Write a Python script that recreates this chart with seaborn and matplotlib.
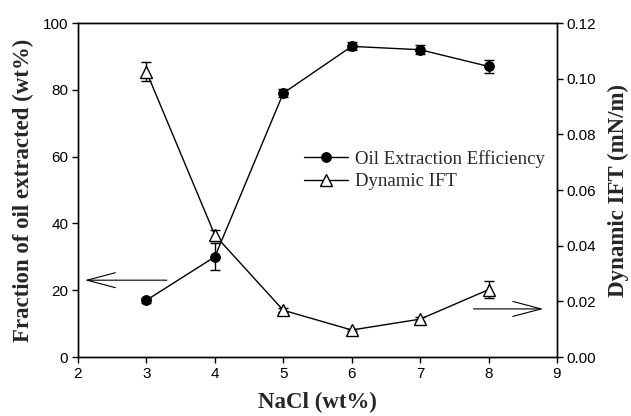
import numpy as np
import pandas as pd
import matplotlib
matplotlib.use("Agg")
import matplotlib.pyplot as plt
import seaborn as sns

nacl = [3, 4, 5, 6, 7, 8]
oil_extracted = [17.0, 30.0, 79.0, 93.0, 92.0, 87.0]
oil_err = [0.8, 4.0, 1.2, 1.2, 1.3, 2.0]
ift = [0.1025, 0.0438, 0.0168, 0.0097, 0.0136, 0.0242]
ift_err = [0.0035, 0.0020, 0.0008, 0.0005, 0.0007, 0.0030]

sns.set_theme(style="ticks")
plt.rcParams["font.family"] = ["Liberation Sans", "DejaVu Sans"]

df = pd.DataFrame({"NaCl": nacl, "oil": oil_extracted, "oil_err": oil_err,
                   "ift": ift, "ift_err": ift_err})

fig = plt.figure(figsize=(6.31, 4.16), dpi=100)
ax = fig.add_axes([0.1236, 0.1418, 0.7591, 0.8029])
ax2 = ax.twinx()

# oil extraction efficiency (left axis)
ax.errorbar(df["NaCl"], df["oil"], yerr=df["oil_err"], fmt="none",
            ecolor="black", elinewidth=1, capsize=3.6, capthick=1, zorder=2)
sns.lineplot(data=df, x="NaCl", y="oil", ax=ax, color="black", lw=1,
             marker="o", markersize=7, markerfacecolor="black",
             markeredgecolor="black", label="Oil Extraction Efficiency",
             legend=False, zorder=3)

# dynamic IFT (right axis)
ax2.errorbar(df["NaCl"], df["ift"], yerr=df["ift_err"], fmt="none",
             ecolor="black", elinewidth=1, capsize=3.6, capthick=1, zorder=2)
sns.lineplot(data=df, x="NaCl", y="ift", ax=ax2, color="black", lw=1,
             marker="^", markersize=8, markerfacecolor="white",
             markeredgecolor="black", markeredgewidth=1,
             label="Dynamic IFT", legend=False, zorder=3)

ax.set_xlim(2, 9)
ax.set_ylim(0, 100)
ax2.set_ylim(0, 0.12)
ax.set_xticks(range(2, 10))
ax.set_yticks(range(0, 101, 20))
ax2.set_yticks(np.arange(0, 0.121, 0.02))
ax2.set_yticklabels([f"{v:.2f}" for v in np.arange(0, 0.121, 0.02)])

for a in (ax, ax2):
    for s in a.spines.values():
        s.set_linewidth(1)
        s.set_color("black")
    a.tick_params(direction="out", length=4, width=1, colors="black",
                  labelsize=11, pad=3)
ax.tick_params(top=False)

serif = ["Liberation Serif", "DejaVu Serif"]
ax.set_xlabel("NaCl (wt%)", fontsize=16.5, fontweight="bold", family=serif,
              labelpad=8)
ax.set_ylabel("Fraction of oil extracted (wt%)", fontsize=16.5,
              fontweight="bold", family=serif, labelpad=6)
ax2.set_ylabel("Dynamic IFT (mN/m)", fontsize=16.5, fontweight="bold",
               family=serif, labelpad=8)

# arrows pointing to each series' axis
arrow = dict(arrowstyle="->,head_length=1.7,head_width=0.45",
             color="black", lw=0.8, shrinkA=0, shrinkB=0)
ax.annotate("", xy=(2.1, 23), xytext=(3.3, 23), arrowprops=arrow)
ax.annotate("", xy=(8.8, 14.4), xytext=(7.78, 14.4), arrowprops=arrow)

h1, l1 = ax.get_legend_handles_labels()
h2, l2 = ax2.get_legend_handles_labels()
ax2.legend(h1 + h2, l1 + l2, loc="upper left", bbox_to_anchor=(0.457, 0.643),
           frameon=False, prop={"family": serif, "size": 13.5},
           handlelength=2.3, handletextpad=0.4, labelspacing=0.3,
           borderaxespad=0)

fig.savefig("out.png", dpi=100)
